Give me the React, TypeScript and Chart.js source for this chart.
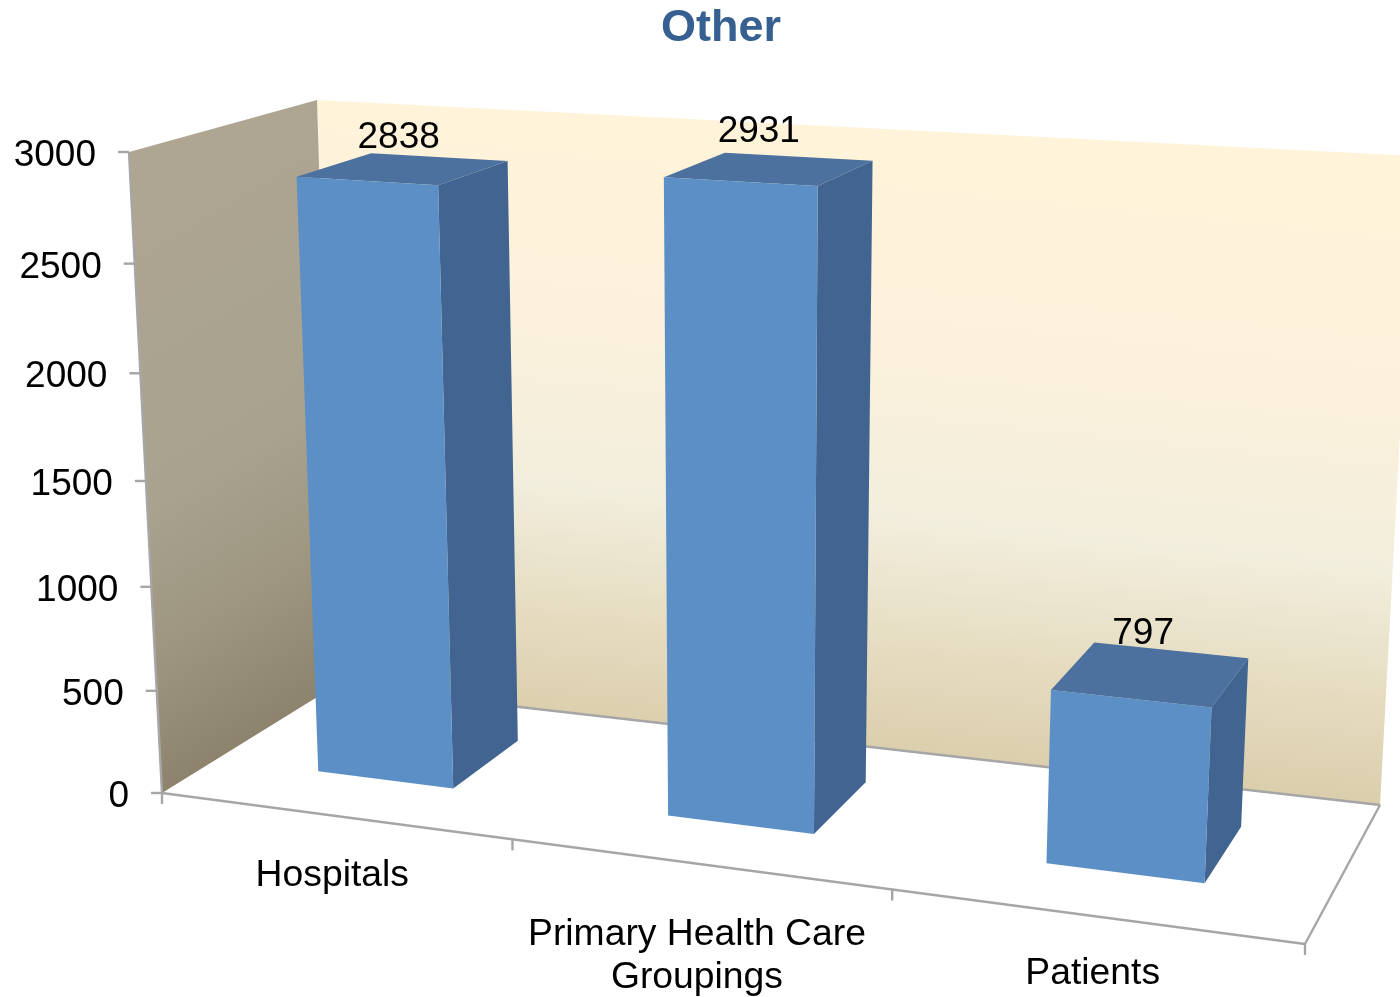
import React, { useEffect, useRef } from "react";
import { Chart, registerables } from "chart.js";

Chart.register(...registerables);

const categories: (string | string[])[] = ["Hospitals", ["Primary Health Care", "Groupings"], "Patients"];
const values = [2838, 2931, 797];
const chartTitle = "Other";
const yMax = 3000;
const yStep = 500;

type V3 = [number, number, number];
// Screen anchors of the corners of the 3D box: [x, value, depth] -> [sx, sy]
const anchors: [V3, [number, number]][] = [
  [[0, 0, 0], [162, 793]],
  [[1, 0, 0], [1305, 944]],
  [[0, 0, 1], [335, 686]],
  [[1, 0, 1], [1380, 805]],
  [[0, 1, 0], [129, 152]],
  [[0, 1, 1], [317, 100]],
  [[1, 1, 1], [1415, 156]],
];

function solve(A: number[][], b: number[]): number[] {
  const n = b.length;
  const M = A.map((r, i) => [...r, b[i]]);
  for (let c = 0; c < n; c++) {
    let p = c;
    for (let r = c + 1; r < n; r++) if (Math.abs(M[r][c]) > Math.abs(M[p][c])) p = r;
    [M[c], M[p]] = [M[p], M[c]];
    for (let r = 0; r < n; r++) {
      if (r === c) continue;
      const f = M[r][c] / M[c][c];
      for (let k = c; k <= n; k++) M[r][k] -= f * M[c][k];
    }
  }
  return M.map((r, i) => r[n] / r[i]);
}

function fitProjection() {
  const rows: number[][] = [];
  const rhs: number[] = [];
  for (const [[x, y, z], [sx, sy]] of anchors) {
    rows.push([x, y, z, 1, 0, 0, 0, 0, -sx * x, -sx * y, -sx * z]);
    rhs.push(sx);
    rows.push([0, 0, 0, 0, x, y, z, 1, -sy * x, -sy * y, -sy * z]);
    rhs.push(sy);
  }
  const n = 11;
  const AtA = Array.from({ length: n }, () => new Array(n).fill(0));
  const Atb = new Array(n).fill(0);
  rows.forEach((r, i) => {
    for (let a = 0; a < n; a++) {
      Atb[a] += r[a] * rhs[i];
      for (let b = 0; b < n; b++) AtA[a][b] += r[a] * r[b];
    }
  });
  return solve(AtA, Atb);
}
const P = fitProjection();
const rawProject = (x: number, y: number, z: number): [number, number] => {
  const w = P[8] * x + P[9] * y + P[10] * z + 1;
  return [(P[0] * x + P[1] * y + P[2] * z + P[3]) / w, (P[4] * x + P[5] * y + P[6] * z + P[7]) / w];
};
// residuals at the anchors, blended back so that the corners land exactly
const residuals = anchors.map(([[x, y, z], [sx, sy]]) => {
  const r = rawProject(x, y, z);
  return { x, y, z, dx: sx - r[0], dy: sy - r[1] };
});
const project = (x: number, y: number, z: number): [number, number] => {
  const r = rawProject(x, y, z);
  for (const c of residuals) {
    const w = (c.x ? x : 1 - x) * (c.y ? y : 1 - y) * (c.z ? z : 1 - z);
    r[0] += w * c.dx;
    r[1] += w * c.dy;
  }
  return r;
};

const BAR_Z0 = 0.3;
const BAR_Z1 = 0.72;
const FONT = '"Liberation Sans", Arial, sans-serif';
const labelDrop = [60, 71, 58];
const valueLabelShift = [[-1, 4], [-7, -2], [-4, 7]];
const AXIS = "#A6A6A6";

const poly = (ctx: CanvasRenderingContext2D, pts: [number, number][], fill: string | CanvasGradient) => {
  ctx.beginPath();
  pts.forEach((p, i) => (i ? ctx.lineTo(p[0], p[1]) : ctx.moveTo(p[0], p[1])));
  ctx.closePath();
  ctx.fillStyle = fill;
  ctx.fill();
};
const line = (ctx: CanvasRenderingContext2D, a: [number, number], b: [number, number]) => {
  ctx.beginPath();
  ctx.moveTo(a[0], a[1]);
  ctx.lineTo(b[0], b[1]);
  ctx.stroke();
};

const box3d = {
  id: "box3d",
  beforeDatasetsDraw(chart: any) {
    const { ctx, chartArea: ca, scales } = chart;
    const nx = (px: number) => (px - ca.left) / (ca.right - ca.left);
    const ny = (py: number) => (ca.bottom - py) / (ca.bottom - ca.top);
    ctx.save();

    // walls
    const a = project(0, 1, 1);
    const backGrad = ctx.createLinearGradient(a[0], a[1], a[0] - 60, a[1] + 597);
    backGrad.addColorStop(0, "#FFF3DA");
    backGrad.addColorStop(0.3, "#FCF1DB");
    backGrad.addColorStop(0.6, "#F2EEDD");
    backGrad.addColorStop(0.8, "#E6DDC2");
    backGrad.addColorStop(1, "#DACDAB");
    poly(ctx, [project(0, 0, 1), project(1, 0, 1), project(1, 1, 1), project(0, 1, 1)], backGrad);
    const c = project(0, 1, 0);
    const sideGrad = ctx.createLinearGradient(c[0], c[1], c[0] + 292, c[1] + 486);
    sideGrad.addColorStop(0, "#AFA692");
    sideGrad.addColorStop(0.55, "#A8A28F");
    sideGrad.addColorStop(0.78, "#9E9680");
    sideGrad.addColorStop(1, "#8D836C");
    poly(ctx, [project(0, 0, 0), project(0, 0, 1), project(0, 1, 1), project(0, 1, 0)], sideGrad);

    // axis lines and ticks
    ctx.strokeStyle = AXIS;
    ctx.lineWidth = 2.4;
    line(ctx, project(0, 0, 0), project(0, 1, 0));
    line(ctx, project(0, 0, 0), project(1, 0, 0));
    line(ctx, project(1, 0, 0), project(1, 0, 1));
    line(ctx, project(0, 0, 1), project(1, 0, 1));

    ctx.fillStyle = "#000";
    ctx.font = `37px ${FONT}`;
    ctx.textBaseline = "middle";
    ctx.textAlign = "right";
    for (const t of scales.y.ticks) {
      const v = ny(scales.y.getPixelForValue(t.value));
      const p = project(0, v, 0);
      line(ctx, [p[0] - 11, p[1]], p);
      ctx.fillStyle = "#000";
      ctx.fillText(String(t.value), p[0] - 33, p[1] + 4);
    }
    ctx.textAlign = "center";
    ctx.font = `37.3px ${FONT}`;
    scales.x.ticks.forEach((t: any, i: number) => {
      const edge = project(nx(scales.x.getPixelForValue(i - 0.5)), 0, 0);
      line(ctx, edge, [edge[0], edge[1] + 11]);
      if (i === scales.x.ticks.length - 1) {
        const e2 = project(nx(scales.x.getPixelForValue(i + 0.5)), 0, 0);
        line(ctx, e2, [e2[0], e2[1] + 11]);
      }
      const p = project(nx(scales.x.getPixelForValue(i)), 0, 0);
      const lines = Array.isArray(t.label) ? t.label : [t.label];
      lines.forEach((s: string, k: number) => {
        ctx.fillStyle = "#000";
        ctx.fillText(s, p[0] - 1.5, p[1] + labelDrop[i] + k * 43);
      });
    });

    // bars, from the bar elements of the library
    const meta = chart.getDatasetMeta(0);
    meta.data.forEach((el: any, i: number) => {
      const x0 = nx(el.x - el.width / 2), x1 = nx(el.x + el.width / 2);
      const top = ny(el.y), base = ny(el.base);
      const q = project;
      poly(ctx, [q(x1, base, BAR_Z0), q(x1, base, BAR_Z1), q(x1, top, BAR_Z1), q(x1, top, BAR_Z0)], "#416490");
      poly(ctx, [q(x0, top, BAR_Z0), q(x1, top, BAR_Z0), q(x1, top, BAR_Z1), q(x0, top, BAR_Z1)], "#4C719E");
      poly(ctx, [q(x0, base, BAR_Z0), q(x1, base, BAR_Z0), q(x1, top, BAR_Z0), q(x0, top, BAR_Z0)], "#5B8FC5");
      const lx = q((x0 + x1) / 2, top, (BAR_Z0 + BAR_Z1) / 2);
      const ly = q((x0 + x1) / 2, top, BAR_Z1);
      ctx.fillStyle = "#000";
      ctx.textAlign = "center";
      ctx.textBaseline = "middle";
      ctx.font = `37px ${FONT}`;
      ctx.fillText(String(values[i]), lx[0] - 4 + valueLabelShift[i][0], ly[1] - 23 + valueLabelShift[i][1]);
    });
    ctx.restore();
    return false;
  },
};

export default function App() {
  const ref = useRef<HTMLCanvasElement>(null);
  useEffect(() => {
    document.body.style.margin = "0";
    const chart = new Chart(ref.current!, {
      type: "bar",
      data: {
        labels: categories as any,
        datasets: [{ data: values, backgroundColor: "#5B8FC5", barPercentage: 0.395, categoryPercentage: 1 }],
      },
      options: {
        responsive: false,
        animation: false,
        layout: { padding: { left: 42, top: 2 } },
        plugins: {
          legend: { display: false },
          tooltip: { enabled: false },
          title: {
            display: true,
            text: chartTitle,
            color: "#376092",
            font: { family: FONT, size: 45, weight: "bold" },
            padding: { top: 0, bottom: 10 },
          },
        },
        scales: {
          x: { display: false },
          y: { display: false, min: 0, max: yMax, ticks: { stepSize: yStep } },
        },
      },
      plugins: [box3d as any],
    });
    return () => chart.destroy();
  }, []);
  return (
    <div style={{ width: 1400, height: 997, overflow: "hidden", background: "#fff" }}>
      <canvas ref={ref} width={1400} height={997} style={{ display: "block" }} />
    </div>
  );
}
